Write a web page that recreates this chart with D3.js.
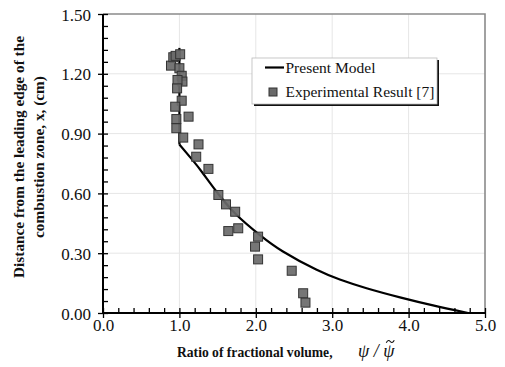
<!DOCTYPE html>
<html><head><meta charset="utf-8">
<script src="https://cdn.jsdelivr.net/npm/d3@7"></script>
<style>body{margin:0;background:#fff}svg{display:block}</style>
</head><body>
<svg id="c" width="505" height="367"></svg>
<script>
const expX = [0.89,0.92,0.95,1.01,1.00,1.03,1.04,0.975,0.97,1.03,0.945,1.12,0.96,0.96,1.05,1.25,1.22,1.38,1.51,1.61,1.73,1.64,1.77,2.03,1.99,2.03,2.47,2.62,2.65];
const expY = [1.241,1.283,1.290,1.298,1.228,1.190,1.161,1.169,1.127,1.065,1.035,0.985,0.973,0.927,0.880,0.846,0.784,0.723,0.592,0.545,0.508,0.411,0.425,0.383,0.333,0.269,0.212,0.099,0.052];
const modelX = [1.0,1.0,1.17,1.30,1.48,1.74,2.05,2.35,2.79,3.10,3.45,3.90,4.32,4.78];
const modelY = [1.33,0.845,0.768,0.705,0.612,0.495,0.392,0.310,0.218,0.168,0.124,0.077,0.038,0.0];
const xTicks = [0,1,2,3,4,5];
const xTickLabels = ["0.0","1.0","2.0","3.0","4.0","5.0"];
const yTicks = [0,0.3,0.6,0.9,1.2,1.5];
const yTickLabels = ["0.00","0.30","0.60","0.90","1.20","1.50"];

const svg = d3.select("#c");
const serif = "'Liberation Serif','Times New Roman',serif";
const x = d3.scaleLinear().domain([0,5]).range([103,485]);
const y = d3.scaleLinear().domain([0,1.5]).range([313,14]);

// grid
const g = svg.append("g");
g.selectAll("line.gx").data(xTicks.slice(1,5)).join("line")
  .attr("x1",d=>x(d)).attr("x2",d=>x(d)).attr("y1",y(0)).attr("y2",y(1.5))
  .attr("stroke","#e6e6e6").attr("stroke-width",1);
g.selectAll("line.gy").data(yTicks.slice(1,5)).join("line")
  .attr("y1",d=>y(d)).attr("y2",d=>y(d)).attr("x1",x(0)).attr("x2",x(5))
  .attr("stroke","#e6e6e6").attr("stroke-width",1);
// top & right frame
svg.append("path").attr("d",`M${x(0)},${y(1.5)}H${x(5)}V${y(0)}`)
  .attr("fill","none").attr("stroke","#8a8a8a").attr("stroke-width",1.6);

// minor ticks (inside)
svg.append("g").attr("transform",`translate(0,${y(0)})`)
  .call(d3.axisBottom(x).tickValues(d3.range(0,5.001,0.2)).tickSize(-5).tickFormat(""))
  .call(s=>{s.select(".domain").remove();s.selectAll("line").attr("stroke","#000").attr("stroke-width",1.3);});
svg.append("g").attr("transform",`translate(${x(0)},0)`)
  .call(d3.axisLeft(y).tickValues(d3.range(0,1.5001,0.06)).tickSize(-5).tickFormat(""))
  .call(s=>{s.select(".domain").remove();s.selectAll("line").attr("stroke","#000").attr("stroke-width",1.3);});

// major axes
const xa = svg.append("g").attr("transform",`translate(0,${y(0)})`)
  .call(d3.axisBottom(x).tickValues(xTicks).tickSize(5).tickPadding(1).tickFormat((d,i)=>xTickLabels[i]));
const ya = svg.append("g").attr("transform",`translate(${x(0)},0)`)
  .call(d3.axisLeft(y).tickValues(yTicks).tickSize(5).tickPadding(7).tickFormat((d,i)=>yTickLabels[i]));
[xa,ya].forEach(a=>{
  a.select(".domain").attr("stroke","#000").attr("stroke-width",2);
  a.selectAll(".tick line").attr("stroke","#000").attr("stroke-width",1.3);
  a.selectAll("text").attr("font-family",serif).attr("font-size",17).attr("fill","#111");
});
ya.selectAll(".tick text").attr("dy","0.36em");
xa.select(".domain").attr("d",`M${x(0)},0H${x(5)}`);
ya.select(".domain").attr("d",`M0,${y(0)}V${y(1.5)}`);

// model line
const pts = modelX.map((v,i)=>[v,modelY[i]]);
svg.append("path").datum(pts.slice(0,2))
  .attr("d",d3.line().x(d=>x(d[0])).y(d=>y(d[1])))
  .attr("fill","none").attr("stroke","#000").attr("stroke-width",2.2);
svg.append("path").datum(pts.slice(1))
  .attr("d",d3.line().curve(d3.curveNatural).x(d=>x(d[0])).y(d=>y(d[1])))
  .attr("fill","none").attr("stroke","#000").attr("stroke-width",2.2);

// experimental squares
const s = 9;
svg.append("g").selectAll("rect").data(expX.map((v,i)=>[v,expY[i]])).join("rect")
  .attr("x",d=>x(d[0])-s/2).attr("y",d=>y(d[1])-s/2).attr("width",s).attr("height",s)
  .attr("fill","#6a6a6a").attr("fill-opacity",0.92).attr("stroke","#333").attr("stroke-width",1);

// legend
const lg = svg.append("g");
lg.append("rect").attr("x",254).attr("y",60).attr("width",185).attr("height",46).attr("fill","#111");
lg.append("rect").attr("x",252).attr("y",58).attr("width",185).attr("height",46)
  .attr("fill","#fff").attr("stroke","#bbb").attr("stroke-width",0.8);
lg.append("line").attr("x1",265).attr("x2",284).attr("y1",67.5).attr("y2",67.5)
  .attr("stroke","#000").attr("stroke-width",2.2);
lg.append("text").attr("x",285.5).attr("y",73).text("Present Model")
  .attr("font-family",serif).attr("font-size",15.5).attr("fill","#111");
lg.append("rect").attr("x",269).attr("y",88).attr("width",8).attr("height",8)
  .attr("fill","#6a6a6a").attr("stroke","#333").attr("stroke-width",1);
lg.append("text").attr("x",285.5).attr("y",96.5).text("Experimental Result [7]")
  .attr("font-family",serif).attr("font-size",15.5).attr("fill","#111");

// axis titles
svg.append("text").attr("x",177).attr("y",357)
  .attr("font-family",serif).attr("font-size",13.6).attr("font-weight","bold").attr("fill","#111")
  .text("Ratio of fractional volume,");
const psi = svg.append("text").attr("x",358).attr("y",357)
  .attr("font-family",serif).attr("font-size",18).attr("font-style","italic").attr("fill","#111")
  .text("\u03C8 / \u03C8");
const node = psi.node();
const n = node.getNumberOfChars();
const st = node.getStartPositionOfChar(n-1).x, en = node.getEndPositionOfChar(n-1).x;
const cx = (st+en)/2 + 1.5, cy = 341.5;
// tilde accent drawn as a small wave
svg.append("path")
  .attr("d",`M${cx-4},${cy+1.2} C${cx-2.5},${cy-1.8} ${cx-1},${cy-1.2} ${cx},${cy} S${cx+2.5},${cy+1.8} ${cx+4},${cy-1.2}`)
  .attr("fill","none").attr("stroke","#111").attr("stroke-width",1.1);

const yt = svg.append("g").attr("font-family",serif).attr("font-size",15.3).attr("font-weight","bold").attr("fill","#111").attr("text-anchor","middle");
yt.append("text").attr("transform","translate(24,157) rotate(-90)").text("Distance from the leading edge of the");
yt.append("text").attr("transform","translate(44,157) rotate(-90)").text("combustion zone, x, (cm)");
</script>
</body></html>
